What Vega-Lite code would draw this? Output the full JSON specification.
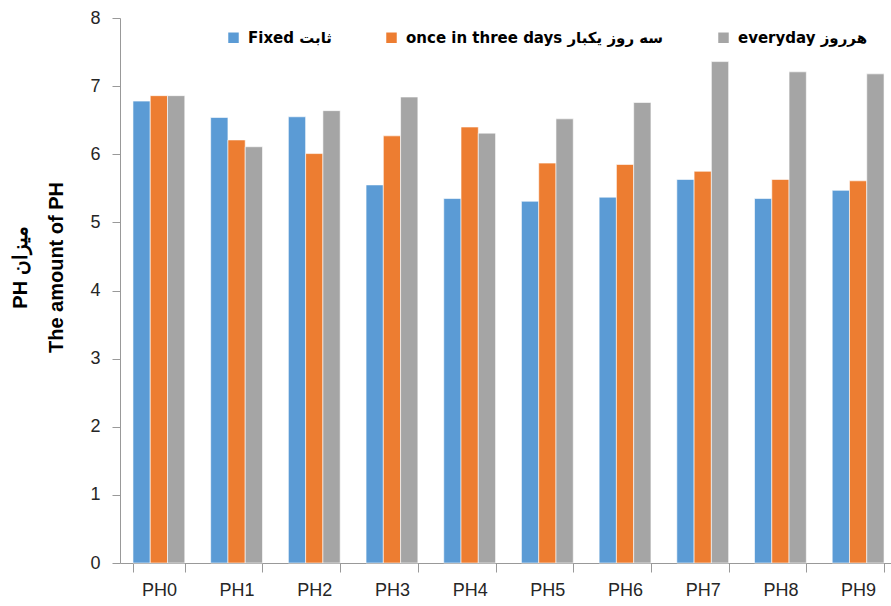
{
  "$schema": "https://vega.github.io/schema/vega-lite/v6.json",
  "width": 771,
  "height": 545,
  "autosize": "none",
  "padding": {"left": 120, "top": 18, "right": 0, "bottom": 43},
  "background": "white",
  "config": {"view": {"stroke": null}, "font": "Liberation Sans"},
  "data": {
    "values": [
      {"phase": "PH0", "series": "Fixed ثابت", "ph": 6.78},
      {"phase": "PH0", "series": "once in three days سه روز یکبار", "ph": 6.86},
      {"phase": "PH0", "series": "everyday هرروز", "ph": 6.86},
      {"phase": "PH1", "series": "Fixed ثابت", "ph": 6.54},
      {"phase": "PH1", "series": "once in three days سه روز یکبار", "ph": 6.21},
      {"phase": "PH1", "series": "everyday هرروز", "ph": 6.11},
      {"phase": "PH2", "series": "Fixed ثابت", "ph": 6.55},
      {"phase": "PH2", "series": "once in three days سه روز یکبار", "ph": 6.01},
      {"phase": "PH2", "series": "everyday هرروز", "ph": 6.64},
      {"phase": "PH3", "series": "Fixed ثابت", "ph": 5.55},
      {"phase": "PH3", "series": "once in three days سه روز یکبار", "ph": 6.27},
      {"phase": "PH3", "series": "everyday هرروز", "ph": 6.84},
      {"phase": "PH4", "series": "Fixed ثابت", "ph": 5.35},
      {"phase": "PH4", "series": "once in three days سه روز یکبار", "ph": 6.4},
      {"phase": "PH4", "series": "everyday هرروز", "ph": 6.31},
      {"phase": "PH5", "series": "Fixed ثابت", "ph": 5.31},
      {"phase": "PH5", "series": "once in three days سه روز یکبار", "ph": 5.87},
      {"phase": "PH5", "series": "everyday هرروز", "ph": 6.52},
      {"phase": "PH6", "series": "Fixed ثابت", "ph": 5.37},
      {"phase": "PH6", "series": "once in three days سه روز یکبار", "ph": 5.85},
      {"phase": "PH6", "series": "everyday هرروز", "ph": 6.76},
      {"phase": "PH7", "series": "Fixed ثابت", "ph": 5.63},
      {"phase": "PH7", "series": "once in three days سه روز یکبار", "ph": 5.75},
      {"phase": "PH7", "series": "everyday هرروز", "ph": 7.36},
      {"phase": "PH8", "series": "Fixed ثابت", "ph": 5.35},
      {"phase": "PH8", "series": "once in three days سه روز یکبار", "ph": 5.63},
      {"phase": "PH8", "series": "everyday هرروز", "ph": 7.21},
      {"phase": "PH9", "series": "Fixed ثابت", "ph": 5.47},
      {"phase": "PH9", "series": "once in three days سه روز یکبار", "ph": 5.61},
      {"phase": "PH9", "series": "everyday هرروز", "ph": 7.18}
    ]
  },
  "mark": {"type": "bar", "stroke": "white", "strokeWidth": 0.6},
  "encoding": {
    "x": {
      "field": "phase",
      "type": "nominal",
      "sort": null,
      "scale": {"range": [0, 777], "paddingInner": 0.333, "paddingOuter": 0.167},
      "axis": {
        "title": null,
        "labelAngle": 0,
        "tickBand": "extent",
        "tickSize": 9,
        "tickColor": "#999999",
        "domainColor": "#999999",
        "labelFontSize": 18,
        "labelColor": "#262626",
        "labelPadding": 9
      }
    },
    "xOffset": {
      "field": "series",
      "type": "nominal",
      "sort": ["Fixed ثابت", "once in three days سه روز یکبار", "everyday هرروز"],
      "scale": {"paddingInner": 0, "paddingOuter": 0}
    },
    "y": {
      "field": "ph",
      "type": "quantitative",
      "scale": {"domain": [0, 8], "nice": false},
      "axis": {
        "values": [0, 1, 2, 3, 4, 5, 6, 7, 8],
        "grid": false,
        "tickSize": 8,
        "tickColor": "#999999",
        "domainColor": "#999999",
        "labelFontSize": 18,
        "labelColor": "#262626",
        "labelPadding": 12,
        "title": ["PH میزان", "The amount of PH"],
        "titleFontSize": 20,
        "titleFontWeight": "bold",
        "titleColor": "#000000",
        "titleLineHeight": 36,
        "titleAngle": -90,
        "titleAlign": "center",
        "titleBaseline": "middle",
        "titleX": -100,
        "titleY": 249
      }
    },
    "color": {
      "field": "series",
      "type": "nominal",
      "sort": ["Fixed ثابت", "once in three days سه روز یکبار", "everyday هرروز"],
      "scale": {"range": ["#5B9BD5", "#ED7D31", "#A5A5A5"]},
      "legend": {
        "title": null,
        "orient": "none",
        "direction": "horizontal",
        "legendX": 106,
        "legendY": 12,
        "symbolType": "square",
        "symbolSize": 110,
        "symbolStrokeWidth": 0,
        "labelFont": "DejaVu Sans",
        "labelFontSize": 15,
        "labelFontWeight": "bold",
        "labelColor": "#000000",
        "labelOffset": 7,
        "columnPadding": 52,
        "labelLimit": 400
      }
    }
  }
}
